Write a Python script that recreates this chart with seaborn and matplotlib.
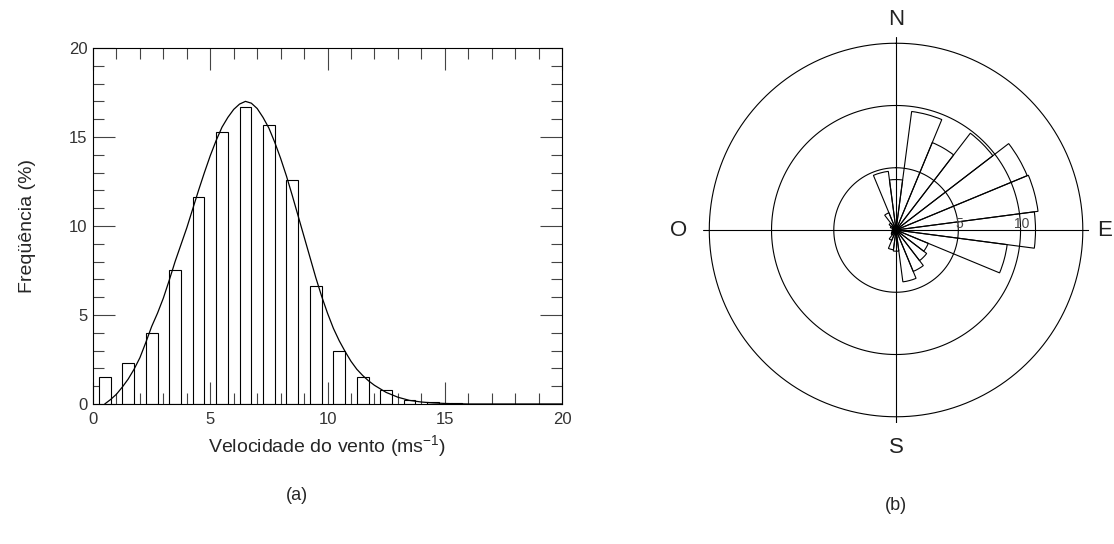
import numpy as np
import seaborn as sns
import matplotlib.pyplot as plt
from matplotlib.ticker import MultipleLocator

# histograma da velocidade do vento (%)
vel_centros = [0.5, 1.5, 2.5, 3.5, 4.5, 5.5, 6.5, 7.5, 8.5, 9.5, 10.5, 11.5, 12.5, 13.5, 14.5, 15.5]
frequencia = [1.5, 2.3, 4.0, 7.5, 11.6, 15.3, 16.7, 15.7, 12.6, 6.6, 3.0, 1.5, 0.8, 0.2, 0.1, 0.05]

# curva ajustada
curva_x = [0.5, 0.75, 1.0, 1.25, 1.5, 1.75, 2.0, 2.25, 2.5, 2.75, 3.0, 3.25, 3.5, 3.75,
           4.0, 4.25, 4.5, 4.75, 5.0, 5.25, 5.5, 5.75, 6.0, 6.25, 6.5, 6.75, 7.0, 7.25,
           7.5, 7.75, 8.0, 8.25, 8.5, 8.75, 9.0, 9.25, 9.5, 9.75, 10.0, 10.25, 10.5,
           10.75, 11.0, 11.25, 11.5, 11.75, 12.0, 12.5, 13.0, 13.5, 14.0, 14.5, 15.0,
           16.0, 20.0]
curva_y = [0.0, 0.25, 0.55, 0.95, 1.4, 1.95, 2.6, 3.45, 4.35, 5.1, 5.95, 6.95, 8.0, 8.95,
           9.9, 10.95, 12.0, 13.0, 13.95, 14.8, 15.55, 16.1, 16.55, 16.85, 17.0, 16.9, 16.6, 16.1,
           15.5, 14.7, 13.8, 12.8, 11.7, 10.55, 9.4, 8.25, 7.1, 6.05, 5.1, 4.25, 3.55,
           2.95, 2.4, 1.95, 1.6, 1.3, 1.05, 0.65, 0.38, 0.2, 0.11, 0.06, 0.03,
           0.0, 0.0]

# rosa dos ventos: direcao (graus) e frequencia (%)
direcoes = [0, 15, 30, 45, 60, 75, 90, 105, 120, 135, 150, 165,
            180, 195, 210, 225, 240, 255, 270, 285, 300, 315, 330, 345]
freq_dir = [4.05, 9.6, 7.6, 9.8, 11.4, 11.5, 11.2, 9.0, 2.8, 3.1, 3.6, 4.2,
            1.7, 1.6, 0.9, 0.5, 0.4, 0.3, 0.3, 0.3, 0.5, 0.7, 1.5, 4.75]
aneis = [5, 10, 15]
pontos_cardeais = ['N', 'E', 'S', 'O']
raio_rotulo = [16.9, 16.75, 17.5, 17.5]

sns.set_theme(style='white')
plt.rcParams['font.family'] = ['Liberation Sans', 'DejaVu Sans']
plt.rcParams['mathtext.fontset'] = 'custom'
plt.rcParams['mathtext.rm'] = 'Liberation Sans'
plt.rcParams['mathtext.default'] = 'regular'

fig = plt.figure(figsize=(11.14, 5.44), dpi=100)

# (a) histograma
ax = fig.add_axes([0.0835, 0.2574, 0.421, 0.6544])
sns.barplot(x=vel_centros, y=frequencia, native_scale=True, orient='x', width=0.5,
            color='white', saturation=1, edgecolor='black', linewidth=0.8,
            errorbar=None, ax=ax)
sns.lineplot(x=curva_x, y=curva_y, color='black', linewidth=0.9, ax=ax)
ax.set_xlim(0, 20)
ax.set_ylim(0, 20)
ax.xaxis.set_major_locator(MultipleLocator(5))
ax.xaxis.set_minor_locator(MultipleLocator(1))
ax.yaxis.set_major_locator(MultipleLocator(5))
ax.yaxis.set_minor_locator(MultipleLocator(1))
ax.tick_params(which='both', direction='in', top=True, right=True, bottom=True, left=True,
               color='#444444', width=0.8, labelsize=12, labelcolor='#333333')
ax.tick_params(which='major', length=16)
ax.tick_params(which='minor', length=8)
ax.tick_params(axis='x', pad=6)
ax.tick_params(axis='y', pad=4)
for s in ax.spines.values():
    s.set_color('black')
    s.set_linewidth(0.8)
ax.set_xlabel('Velocidade do vento (ms$^{-1}$)', fontsize=14)
ax.set_ylabel('Freqüência (%)', fontsize=14)
ax.xaxis.set_label_coords(0.5, -0.118)
ax.xaxis.label.set_va('center')
ax.yaxis.set_label_coords(-0.139, 0.5)
ax.yaxis.label.set_va('center')

# (b) rosa dos ventos
axp = fig.add_axes([0.6311, 0.2224, 0.3465, 0.7096], projection='polar')
axp.set_theta_zero_location('N')
axp.set_theta_direction(-1)
rmax = 15.5
teta = np.linspace(0, 2 * np.pi, 361)
for r in aneis:
    axp.plot(teta, np.full_like(teta, r), color='black', linewidth=0.8)
for i, nome in enumerate(pontos_cardeais):
    ang = np.deg2rad(90 * i)
    axp.plot([ang, ang], [0, rmax], color='black', linewidth=0.8)
    axp.text(ang, raio_rotulo[i], nome, ha='center', va='center', fontsize=16,
             color='#222222', clip_on=False)
axp.bar(np.deg2rad(direcoes), freq_dir, width=np.deg2rad(15), bottom=0,
        facecolor='none', edgecolor='black', linewidth=0.8)
for r in aneis[:2]:
    axp.annotate(str(r), (np.deg2rad(90), r), xytext=(1, 4), textcoords='offset points',
                 ha='center', va='center', fontsize=10, color='#444444')
axp.set_ylim(0, rmax)
axp.grid(False)
axp.set_xticks([])
axp.set_yticks([])
axp.spines['polar'].set_visible(False)
axp.set_facecolor('none')

fig.text(297 / 1114, 1 - 496 / 544, '(a)', ha='center', va='center', fontsize=13)
fig.text(896 / 1114, 1 - 505 / 544, '(b)', ha='center', va='center', fontsize=13)

fig.savefig('out.png', dpi=100)
